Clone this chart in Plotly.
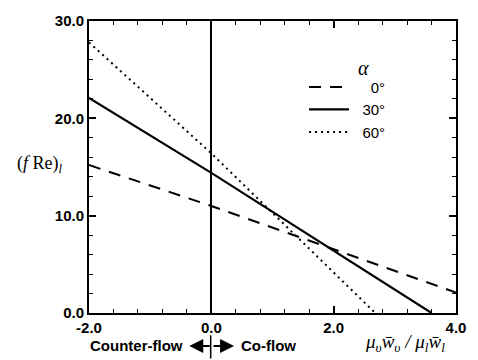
import plotly.graph_objects as go

x_0 = [-2.0, 0.0, 4.0]
y_0 = [15.2, 11.0, 2.1]
x_30 = [-2.0, 0.0, 3.6]
y_30 = [22.1, 14.4, 0.0]
x_60 = [-2.0, 0.0, 2.68]
y_60 = [27.8, 16.4, 0.0]
labels = ["\u2007\u20070°", "\u200730°", "\u200760°"]

fig = go.Figure()
fig.add_trace(go.Scatter(x=x_0, y=y_0, mode="lines", name=labels[0],
                         line=dict(color="black", width=2, dash="12px,9px")))
fig.add_trace(go.Scatter(x=x_30, y=y_30, mode="lines", name=labels[1],
                         line=dict(color="black", width=2.2)))
fig.add_trace(go.Scatter(x=x_60, y=y_60, mode="lines", name=labels[2],
                         line=dict(color="black", width=2, dash="2px,4px")))

tickfont = dict(family="Liberation Sans", size=15, color="black")
fig.update_layout(
    width=478, height=360,
    margin=dict(l=89, r=12, t=12, b=47),
    paper_bgcolor="white", plot_bgcolor="white",
    font=dict(family="Liberation Sans", color="black"),
    showlegend=True,
    legend=dict(x=0.586, y=0.83, xanchor="left", yanchor="top",
                bgcolor="rgba(0,0,0,0)", font=dict(size=15, family="Liberation Sans"),
                itemwidth=40, tracegroupgap=0),
    xaxis=dict(range=[-2, 4], showgrid=False, zeroline=True, zerolinecolor="black", zerolinewidth=2,
               showline=True, linecolor="black", linewidth=2, mirror="ticks",
               ticks="inside", ticklen=7, tickwidth=1.5, tickcolor="black",
               tickvals=[-2, 0, 2, 4], ticktext=["<b>-2.0</b>", "<b>0.0</b>", "<b>2.0</b>", "<b>4.0</b>"],
               tickfont=tickfont,
               minor=dict(dtick=0.4, ticks="inside", ticklen=4, tickwidth=1.2, tickcolor="black")),
    yaxis=dict(range=[0, 30], showgrid=False, zeroline=False,
               showline=True, linecolor="black", linewidth=2, mirror="ticks",
               ticks="inside", ticklen=7, tickwidth=1.5, tickcolor="black",
               tickvals=[0, 10, 20, 30], ticktext=["<b>0.0</b>", "<b>10.0</b>", "<b>20.0</b>", "<b>30.0</b>"],
               tickfont=tickfont,
               minor=dict(dtick=2, ticks="inside", ticklen=4, tickwidth=1.2, tickcolor="black")),
)

def px(xp):
    return (xp - 89) / 377

def py(yp):
    return (313 - yp) / 301

fig.add_annotation(xref="paper", yref="paper", x=px(371), y=py(60), showarrow=False,
                   xanchor="center", yanchor="middle", text="<i>α</i>",
                   font=dict(family="Liberation Serif", size=20, color="black"))
fig.add_annotation(xref="paper", yref="paper", x=px(39), y=py(160), showarrow=False,
                   xanchor="center", yanchor="middle",
                   text="(<i>f</i> Re)<sub><i>l</i></sub>",
                   font=dict(family="Liberation Serif", size=18, color="black"))
fig.add_annotation(xref="paper", yref="paper", x=px(414), y=py(344), showarrow=False,
                   xanchor="center", yanchor="middle",
                   text="<i>μ<sub>υ</sub>w̄<sub>υ</sub> / μ<sub>l</sub>w̄<sub>l</sub></i>",
                   font=dict(family="Liberation Serif", size=19, color="black"))
fig.add_annotation(xref="paper", yref="paper", x=px(188), y=py(347), xanchor="right", yanchor="middle",
                   showarrow=False, text="<b>Counter-flow</b>",
                   font=dict(family="Liberation Sans", size=15, color="black"))
fig.add_annotation(xref="paper", yref="paper", x=px(243), y=py(347), xanchor="left", yanchor="middle",
                   showarrow=False, text="<b>Co-flow</b>",
                   font=dict(family="Liberation Sans", size=15, color="black"))
for tip, ax in [(192, 22), (238, -22)]:
    fig.add_annotation(xref="paper", yref="paper", x=px(tip), y=py(347),
                       ax=ax, ay=0, showarrow=True, arrowhead=2, arrowsize=1.4,
                       arrowwidth=2, arrowcolor="black", text="")
fig.add_shape(type="line", xref="paper", yref="paper",
              x0=px(214), x1=px(214), y0=py(336), y1=py(360),
              line=dict(color="black", width=1.5))

fig.write_html("out.html")
